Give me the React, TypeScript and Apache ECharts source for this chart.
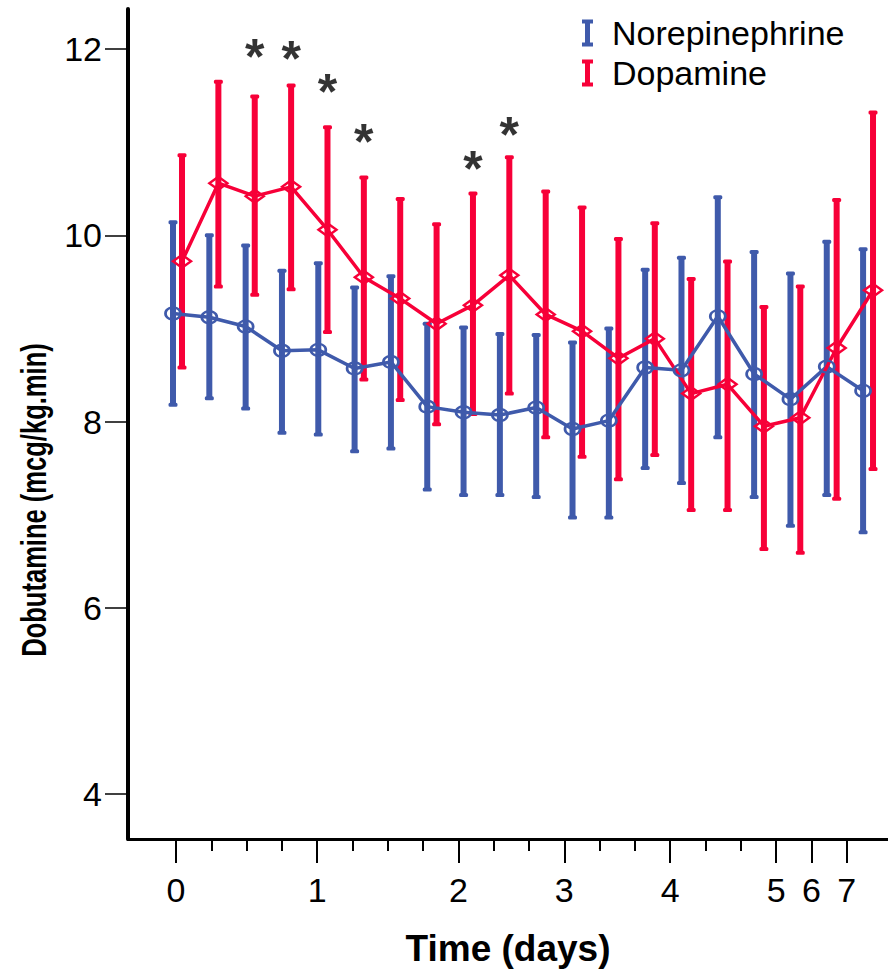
import React, { useEffect, useRef } from 'react';
import * as echarts from 'echarts';

// 20 time points (index along the time axis)
const timeIndex = [0, 1, 2, 3, 4, 5, 6, 7, 8, 9, 10, 11, 12, 13, 14, 15, 16, 17, 18, 19];
// day labels and the time-point index each one sits on
const dayLabels = ['0', '1', '2', '3', '4', '5', '6', '7'];
const dayTickIndex = [0, 4, 8, 11, 14, 17, 18, 19];
const yTicks = [4, 6, 8, 10, 12];

const norMean = [9.16, 9.12, 9.02, 8.76, 8.77, 8.57, 8.64, 8.16, 8.10, 8.07, 8.15, 7.92, 8.01, 8.58, 8.55, 9.13, 8.51, 8.24, 8.59, 8.33];
const norHigh = [10.15, 10.01, 9.90, 9.63, 9.71, 9.45, 9.57, 9.06, 9.02, 8.95, 8.94, 8.86, 9.01, 9.64, 9.77, 10.42, 9.83, 9.60, 9.94, 9.86];
const norLow = [8.17, 8.24, 8.13, 7.87, 7.85, 7.67, 7.70, 7.26, 7.20, 7.20, 7.18, 6.96, 6.96, 7.49, 7.33, 7.82, 7.18, 6.87, 7.20, 6.80];

const dopMean = [9.72, 10.56, 10.42, 10.52, 10.06, 9.55, 9.32, 9.05, 9.25, 9.57, 9.15, 8.97, 8.68, 8.89, 8.30, 8.40, 7.95, 8.04, 8.79, 9.41];
const dopHigh = [10.87, 11.66, 11.50, 11.62, 11.17, 10.63, 10.40, 10.13, 10.46, 10.85, 10.48, 10.31, 9.97, 10.14, 9.54, 9.73, 9.24, 9.46, 10.39, 11.33];
const dopLow = [8.57, 9.44, 9.35, 9.41, 8.95, 8.44, 8.22, 7.96, 8.07, 8.29, 7.82, 7.61, 7.37, 7.63, 7.04, 7.04, 6.62, 6.58, 7.16, 7.48];

// significance markers: time-point index and height
const starIndex = [2, 3, 4, 5, 8, 9];
const starValue = [12.01, 11.99, 11.63, 11.10, 10.81, 11.17];

const BLUE = '#3F5AAB';
const RED = '#F70038';
const FONT = "'Liberation Sans', Arial, sans-serif";
const BAR_ICON = 'path://M0,0H11V4H8V23H11V27H0V23H3V4H0Z';

function errorBarRenderer(color: string) {
  return (params: any, api: any) => {
    const x = api.value(0);
    const lo = api.value(1);
    const hi = api.value(2);
    const top = api.coord([x, hi]);
    const bot = api.coord([x, lo]);
    const w = 6;
    return {
      type: 'group',
      children: [
        { type: 'rect', shape: { x: top[0] - w / 2, y: top[1], width: w, height: bot[1] - top[1] }, style: { fill: color } },
        { type: 'rect', shape: { x: top[0] - 4.5, y: top[1] - 1, width: 9, height: 4, r: 1.5 }, style: { fill: color } },
        { type: 'rect', shape: { x: bot[0] - 4.5, y: bot[1] - 3, width: 9, height: 4, r: 1.5 }, style: { fill: color } },
      ],
    };
  };
}

export default function App() {
  const ref = useRef<HTMLDivElement>(null);

  useEffect(() => {
    if (!ref.current) return;
    const chart = echarts.init(ref.current, undefined, { renderer: 'svg' });

    const norBars = timeIndex.map((k, i) => [k, norLow[i], norHigh[i]]);
    const dopBars = timeIndex.map((k, i) => [k, dopLow[i], dopHigh[i]]);
    const norLine = timeIndex.map((k, i) => [k, norMean[i]]);
    const dopLine = timeIndex.map((k, i) => [k, dopMean[i]]);
    const stars = starIndex.map((k, i) => [k, starValue[i]]);

    const hiddenAxis = {
      type: 'value',
      position: 'bottom',
      axisLine: { show: false, onZero: false },
      axisTick: { show: false },
      axisLabel: { show: false },
      splitLine: { show: false },
    };

    chart.setOption({
      animation: false,
      textStyle: { fontFamily: FONT },
      grid: { left: 128, right: 0, top: 9, bottom: 136, containLabel: false, outerBoundsMode: 'none' },
      legend: {
        orient: 'vertical',
        left: 582,
        top: 16,
        padding: 0,
        itemWidth: 11,
        itemHeight: 27,
        itemGap: 6,
        selectedMode: false,
        textStyle: { fontSize: 34, color: '#000', fontFamily: FONT, padding: [0, 0, 0, 14] },
        data: [
          { name: 'Norepinephrine', icon: BAR_ICON, itemStyle: { color: BLUE, borderWidth: 0 } },
          { name: 'Dopamine', icon: BAR_ICON, itemStyle: { color: RED, borderWidth: 0 } },
        ],
      },
      xAxis: [
        {
          // visible time axis: short ticks at every time point
          type: 'value',
          position: 'bottom',
          min: -1.36,
          max: 20.17,
          axisLine: { show: true, onZero: false, lineStyle: { color: '#000', width: 3 } },
          axisTick: { show: true, customValues: timeIndex, length: 12, lineStyle: { color: '#000', width: 2 } },
          axisLabel: { show: false },
          splitLine: { show: false },
          name: 'Time (days)',
          nameLocation: 'middle',
          nameGap: 91,
          nameTextStyle: { fontSize: 37, fontWeight: 'bold', color: '#000', fontFamily: FONT },
        },
        {
          // day ticks (long) and labels
          type: 'value',
          position: 'bottom',
          min: -1.36,
          max: 20.17,
          axisLine: { show: false, onZero: false },
          axisTick: { show: true, customValues: dayTickIndex, length: 24, lineStyle: { color: '#000', width: 2 } },
          axisLabel: {
            show: true,
            customValues: dayTickIndex,
            margin: 34,
            fontSize: 34,
            color: '#000',
            fontFamily: FONT,
            formatter: (v: number) => dayLabels[dayTickIndex.indexOf(Math.round(v))] ?? '',
          },
          splitLine: { show: false },
        },
        // Norepinephrine positions
        { ...hiddenAxis, min: -1.239, max: 19.686 },
        // Dopamine positions
        { ...hiddenAxis, min: -1.485, max: 19.412 },
      ],
      yAxis: {
        type: 'value',
        position: 'left',
        min: 3.517,
        max: 12.43,
        axisLine: { show: true, onZero: false, lineStyle: { color: '#000', width: 4 } },
        axisTick: { show: true, customValues: yTicks, length: 23, lineStyle: { color: '#000', width: 1.5 } },
        axisLabel: { show: true, customValues: yTicks, margin: 26, fontSize: 34, color: '#000', fontFamily: FONT },
        splitLine: { show: false },
      },
      graphic: [
        {
          type: 'text',
          x: 33,
          y: 500,
          rotation: Math.PI / 2,
          scaleX: 0.73,
          style: {
            text: 'Dobutamine (mcg/kg.min)',
            fontSize: 35,
            fontWeight: 'bold',
            fontFamily: FONT,
            fill: '#000',
            align: 'center',
            verticalAlign: 'middle',
          },
        },
      ],
      series: [
        {
          name: 'Norepinephrine',
          type: 'custom',
          xAxisIndex: 2,
          renderItem: errorBarRenderer(BLUE),
          itemStyle: { color: BLUE },
          encode: { x: 0, y: [1, 2] },
          data: norBars,
          z: 2,
        },
        {
          name: 'Dopamine',
          type: 'custom',
          xAxisIndex: 3,
          renderItem: errorBarRenderer(RED),
          itemStyle: { color: RED },
          encode: { x: 0, y: [1, 2] },
          data: dopBars,
          z: 2,
        },
        {
          name: 'Norepinephrine',
          type: 'line',
          xAxisIndex: 2,
          data: norLine,
          symbol: 'circle',
          symbolSize: [15, 12],
          itemStyle: { color: 'rgba(0,0,0,0)', borderColor: BLUE, borderWidth: 2.5 },
          lineStyle: { color: BLUE, width: 3.5 },
          z: 3,
        },
        {
          name: 'Dopamine',
          type: 'line',
          xAxisIndex: 3,
          data: dopLine,
          symbol: 'diamond',
          symbolSize: [18, 13],
          itemStyle: { color: 'rgba(0,0,0,0)', borderColor: RED, borderWidth: 2.5 },
          lineStyle: { color: RED, width: 3.5 },
          z: 3,
        },
        {
          name: 'significance',
          type: 'scatter',
          xAxisIndex: 3,
          data: stars,
          symbol: 'circle',
          symbolSize: 1,
          itemStyle: { color: 'rgba(0,0,0,0)' },
          label: {
            show: true,
            position: 'inside',
            formatter: '*',
            fontSize: 50,
            fontWeight: 'bold',
            color: '#000',
            fontFamily: FONT,
            offset: [0, 9],
          },
          z: 4,
        },
      ],
    });

    return () => chart.dispose();
  }, []);

  return (
    <div
      ref={ref}
      style={{ position: 'absolute', left: 0, top: 0, width: 888, height: 975, background: '#fff' }}
    />
  );
}
